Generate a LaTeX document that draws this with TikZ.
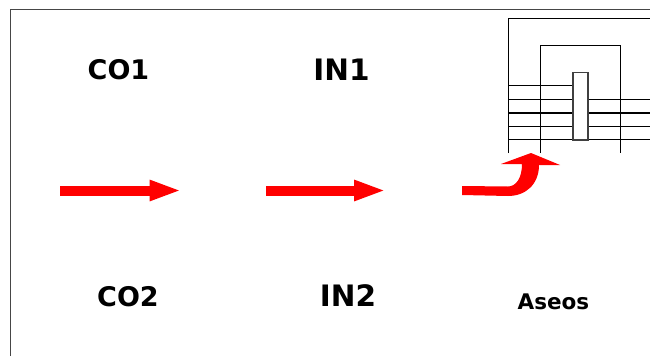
\documentclass[tikz,border=0pt]{standalone}
\usepackage{fontspec}
\setmainfont{DejaVu Sans}
\usetikzlibrary{arrows.meta}
\definecolor{framegray}{RGB}{70,70,70}

\begin{document}
\begin{tikzpicture}[x=1pt,y=-1pt,
    label text/.style={font=\bfseries\fontsize{27}{30}\selectfont,text=black,inner sep=0pt},
    wide text/.style={font=\bfseries\fontsize{29.5}{32}\selectfont,text=black,inner sep=0pt},
    small text/.style={font=\bfseries\fontsize{21.5}{25}\selectfont,text=black,inner sep=0pt},
    red arrow/.style={draw=red,line width=10pt,-{Triangle[length=32pt,width=19pt]}},
    plan line/.style={draw=black,line width=1pt},
    plan heavy/.style={draw=black,line width=2pt}]
\useasboundingbox (0,0) rectangle (650,356);

\draw[framegray,line width=1.2pt] (10.5,356) -- (10.5,9.5) -- (650,9.5);

\node[label text] (co1) at (118.5,70) {CO1};
\node[wide text] (in1) at (341.5,70) {IN1};
\node[label text] (co2) at (128,297) {CO2};
\node[wide text] (in2) at (348,296) {IN2};
\node[small text] (aseos) at (553.5,302) {Aseos};

\coordinate (a1) at (60,190.5);
\coordinate (a2) at (181.5,190.5);
\coordinate (b1) at (266,190.5);
\coordinate (b2) at (386,190.5);
\draw[red arrow] (a1) -- (a2);
\draw[red arrow] (b1) -- (b2);

% plan of the toilets
\draw[plan line] (508,153) -- (508,18) -- (650,18);
\draw[plan line] (540.5,153) -- (540.5,45.5) -- (620.5,45.5) -- (620.5,153);
\draw[plan line] (508,85.5) -- (573,85.5);
\foreach \y in {99.5,126.5,139.5}
    \draw[plan line] (508,\y) -- (650,\y);
\draw[plan heavy] (508,113) -- (650,113);
\draw[draw=black!75,fill=white,line width=1.2pt] (573,72.5) rectangle (588,140);

% bent arrow
\fill[red] (462,186) -- (508,186.5) .. controls (516,186.5) and (522,178) .. (522,164)
    -- (501,164) -- (531,153) -- (560,165) -- (539,165)
    .. controls (539,184) and (526,196) .. (508,196) -- (462,195) -- cycle;
\end{tikzpicture}
\end{document}
